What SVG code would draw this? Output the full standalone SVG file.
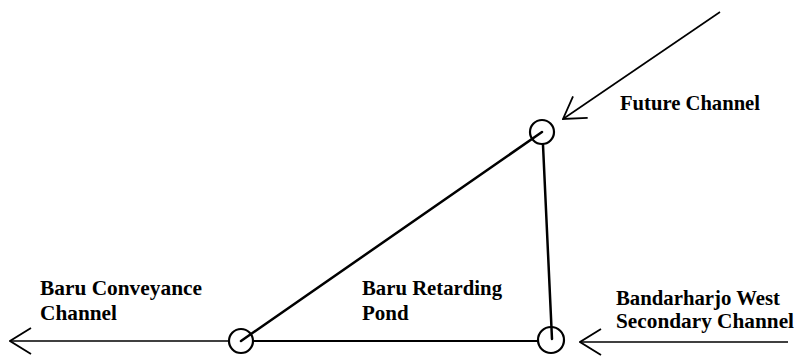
<svg xmlns="http://www.w3.org/2000/svg" width="801" height="358" viewBox="0 0 801 358">
<style>
.bg{fill:#fff}
.main{stroke:#000;stroke-width:2.5;fill:none;stroke-linecap:round}
.base{stroke:#000;stroke-width:1.8;fill:none}
.flow{stroke:#000;stroke-width:1.6;fill:none}
.node{stroke:#000;stroke-width:2.2;fill:none}
.lbl{font-family:"Liberation Serif","Times New Roman",serif;font-weight:bold;font-size:21px;fill:#000}
</style>
<defs>
<marker id="open" viewBox="0 0 24 30" refX="23" refY="15" markerWidth="24" markerHeight="30" markerUnits="userSpaceOnUse" orient="auto">
<path d="M2,2 L23,15 L2,28" fill="none" stroke="#000" stroke-width="1.8"/>
</marker>
</defs>
<rect class="bg" x="0" y="0" width="801" height="358"/>
<g id="connectors">
<line class="main" x1="241" y1="341" x2="542" y2="132"/>
<line class="main" x1="543" y1="145" x2="552" y2="339"/>
<line class="base" x1="253" y1="341" x2="538" y2="341"/>
<line class="flow" x1="228" y1="341" x2="10" y2="341" marker-end="url(#open)"/>
<line class="flow" x1="788" y1="342" x2="580" y2="342" marker-end="url(#open)"/>
<line class="flow" x1="720" y1="12" x2="563" y2="119" marker-end="url(#open)"/>
</g>
<g id="node-top"><circle class="node" cx="542" cy="132" r="12"/></g>
<g id="node-left"><circle class="node" cx="241" cy="341" r="12"/></g>
<g id="node-right"><circle class="node" cx="551" cy="340" r="13"/></g>
<g id="label-future"><text class="lbl" x="620" y="110" textLength="140" lengthAdjust="spacingAndGlyphs">Future Channel</text></g>
<g id="label-conveyance">
<text class="lbl" x="40" y="295" textLength="162" lengthAdjust="spacingAndGlyphs">Baru Conveyance</text>
<text class="lbl" x="40" y="320" textLength="77" lengthAdjust="spacingAndGlyphs">Channel</text>
</g>
<g id="label-pond">
<text class="lbl" x="362" y="295" textLength="140" lengthAdjust="spacingAndGlyphs">Baru Retarding</text>
<text class="lbl" x="362" y="320">Pond</text>
</g>
<g id="label-bandarharjo">
<text class="lbl" x="616" y="305" textLength="164" lengthAdjust="spacingAndGlyphs">Bandarharjo West</text>
<text class="lbl" x="616" y="328" textLength="178" lengthAdjust="spacingAndGlyphs">Secondary Channel</text>
</g>
</svg>
